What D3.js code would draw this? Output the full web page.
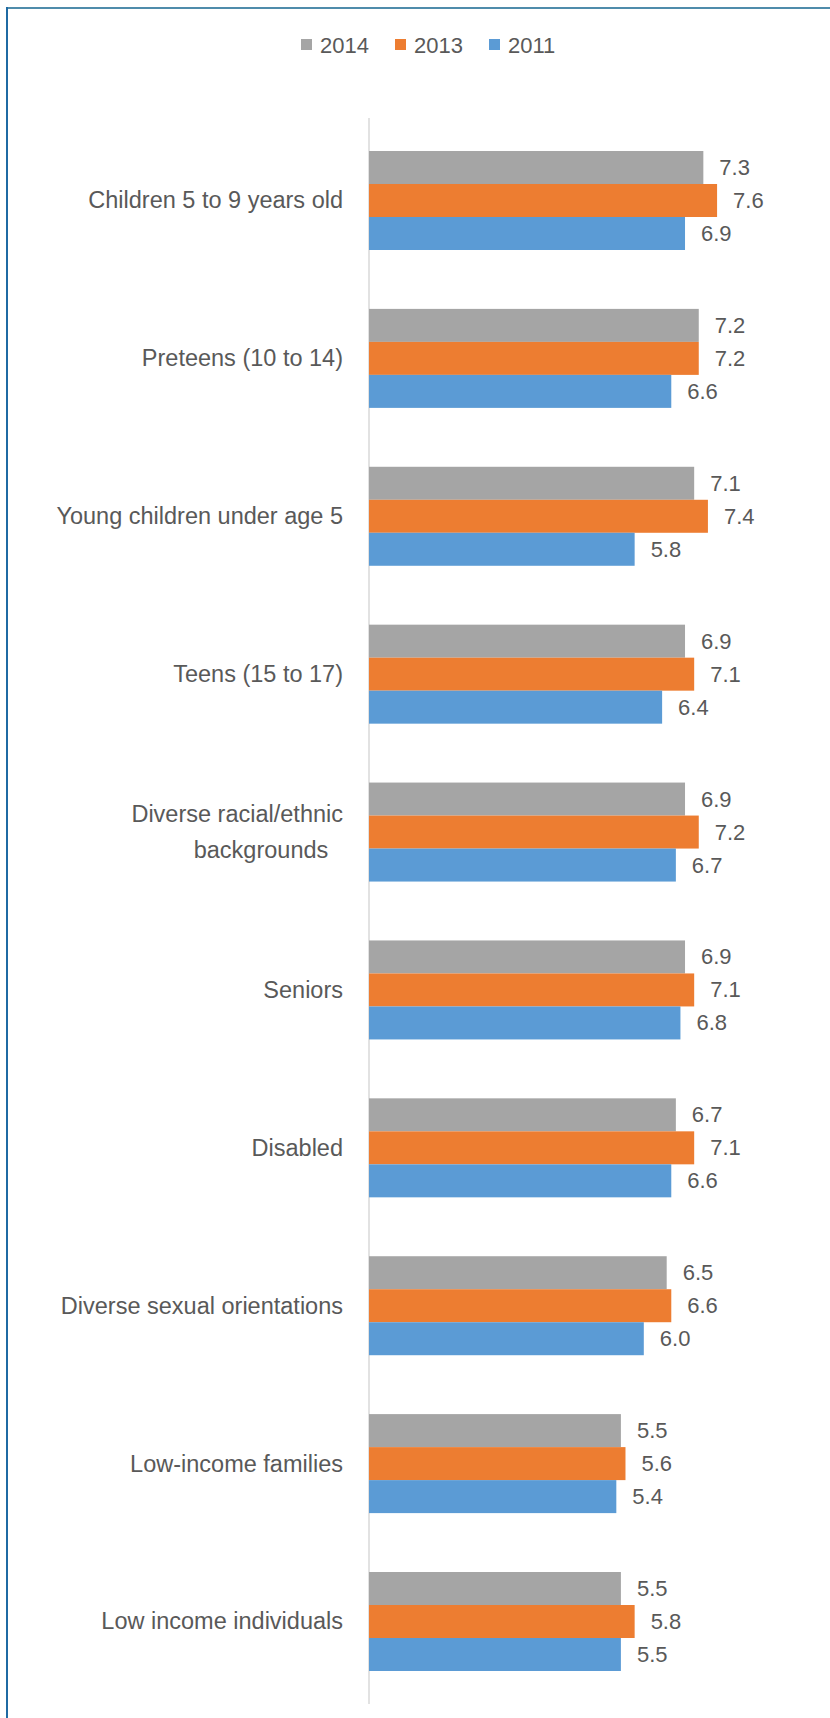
<!DOCTYPE html>
<html lang="en">
<head>
    <meta charset="UTF-8">
    <script src="https://d3js.org/d3.v7.min.js"></script>
    <style>
        body { margin: 0; background: #fff; }
        text {
            font-family: "Liberation Sans", Arial, sans-serif;
            fill: #595959;
        }
        .cat { font-size: 23.5px; }
        .val { font-size: 22px; }
        .leg { font-size: 22px; }
    </style>
</head>
<body>
    <svg id="chart"></svg>
    <script>
        // categories, top to bottom
        const categories = [
            "Children 5 to 9 years old",
            "Preteens (10 to 14)",
            "Young children under age 5",
            "Teens (15 to 17)",
            "Diverse racial/ethnic backgrounds",
            "Seniors",
            "Disabled",
            "Diverse sexual orientations",
            "Low-income families",
            "Low income individuals"
        ];
        const seriesNames = ["2014", "2013", "2011"];
        const values2014 = [7.3, 7.2, 7.1, 6.9, 6.9, 6.9, 6.7, 6.5, 5.5, 5.5];
        const values2013 = [7.6, 7.2, 7.4, 7.1, 7.2, 7.1, 7.1, 6.6, 5.6, 5.8];
        const values2011 = [6.9, 6.6, 5.8, 6.4, 6.7, 6.8, 6.6, 6.0, 5.4, 5.5];
        const colors = ["#a5a5a5", "#ed7d31", "#5b9bd5"];

        const width = 830, height = 1718;
        const axisX = 369;

        const svg = d3.select("#chart")
            .attr("width", width)
            .attr("height", height)
            .style("display", "block");

        // frame lines (top and left only are visible in the picture)
        svg.append("line")
            .attr("x1", 6).attr("x2", width)
            .attr("y1", 8).attr("y2", 8)
            .attr("stroke", "#4f8cab").attr("stroke-width", 2);
        svg.append("line")
            .attr("x1", 7).attr("x2", 7)
            .attr("y1", 7).attr("y2", height)
            .attr("stroke", "#1f6aa3").attr("stroke-width", 2);

        const rows = categories.map((c, i) => ({
            cat: c,
            vals: [values2014[i], values2013[i], values2011[i]]
        }));

        const x = d3.scaleLinear()
            .domain([0, 8])
            .range([axisX, axisX + 8 * 45.8]);

        const y = d3.scaleBand()
            .domain(categories)
            .range([118, 1704])
            .paddingInner(0.373)
            .paddingOuter(0.209);

        const ySeries = d3.scaleBand()
            .domain(seriesNames)
            .range([0, y.bandwidth()]);

        // vertical axis line
        svg.append("line")
            .attr("x1", axisX).attr("x2", axisX)
            .attr("y1", y.range()[0]).attr("y2", y.range()[1])
            .attr("stroke", "#d9d9d9").attr("stroke-width", 1.5);

        const groups = svg.selectAll(".grp")
            .data(rows)
            .enter().append("g")
            .attr("class", "grp")
            .attr("transform", d => `translate(0,${y(d.cat)})`);

        groups.selectAll("rect")
            .data(d => d.vals.map((v, i) => ({ v, s: seriesNames[i], i })))
            .enter().append("rect")
            .attr("x", x(0))
            .attr("y", d => ySeries(d.s))
            .attr("width", d => x(d.v) - x(0))
            .attr("height", ySeries.bandwidth())
            .attr("fill", d => colors[d.i]);

        groups.selectAll(".val")
            .data(d => d.vals.map((v, i) => ({ v, s: seriesNames[i] })))
            .enter().append("text")
            .attr("class", "val")
            .attr("x", d => x(d.v) + 16)
            .attr("y", d => ySeries(d.s) + ySeries.bandwidth() / 2)
            .attr("dominant-baseline", "central")
            .text(d => d.v.toFixed(1));

        // category labels
        groups.each(function(d) {
            const g = d3.select(this);
            const mid = y.bandwidth() / 2;
            if (d.cat === "Diverse racial/ethnic backgrounds") {
                g.append("text").attr("class", "cat")
                    .attr("x", 343).attr("y", mid - 18)
                    .attr("text-anchor", "end")
                    .attr("dominant-baseline", "central")
                    .text("Diverse racial/ethnic");
                g.append("text").attr("class", "cat")
                    .attr("x", 261).attr("y", mid + 18)
                    .attr("text-anchor", "middle")
                    .attr("dominant-baseline", "central")
                    .text("backgrounds");
            } else {
                g.append("text").attr("class", "cat")
                    .attr("x", 343).attr("y", mid)
                    .attr("text-anchor", "end")
                    .attr("dominant-baseline", "central")
                    .text(d.cat);
            }
        });

        // legend
        const legX = [301, 395, 489];
        const leg = svg.selectAll(".legitem")
            .data(seriesNames)
            .enter().append("g")
            .attr("class", "legitem")
            .attr("transform", (d, i) => `translate(${legX[i]},45)`);
        leg.append("rect")
            .attr("x", 0).attr("y", -6)
            .attr("width", 11).attr("height", 11)
            .attr("fill", (d, i) => colors[i]);
        leg.append("text")
            .attr("class", "leg")
            .attr("x", 19).attr("y", 0)
            .attr("dominant-baseline", "central")
            .text(d => d);
    </script>
</body>
</html>
